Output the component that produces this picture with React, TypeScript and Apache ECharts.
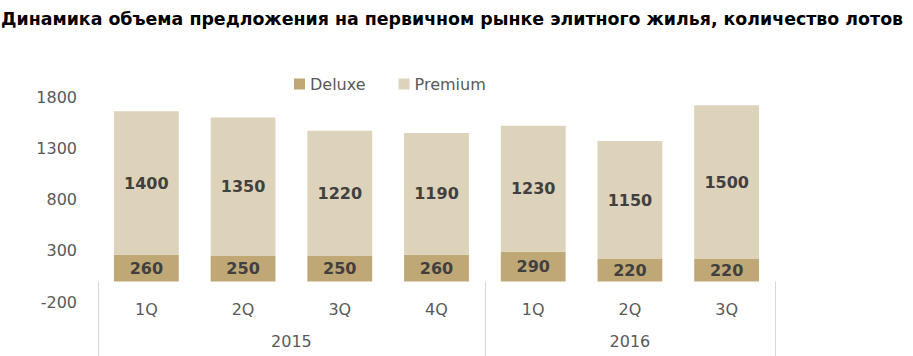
import React, { useEffect, useRef } from "react";
import * as echarts from "echarts";

const quarters = ["1Q", "2Q", "3Q", "4Q", "1Q", "2Q", "3Q"];
const years = ["2015", "2016"];
const quartersPerYear = [4, 3];
const deluxe = [260, 250, 250, 260, 290, 220, 220];
const premium = [1400, 1350, 1220, 1190, 1230, 1150, 1500];
const yTicks = [-200, 300, 800, 1300, 1800];

const FONT = "'DejaVu Sans', Verdana, sans-serif";

export default function App() {
  const ref = useRef<HTMLDivElement>(null);
  useEffect(() => {
    if (!ref.current) return;
    const chart = echarts.init(ref.current, undefined, { renderer: "svg" });
    const bounds: number[] = [0];
    quartersPerYear.forEach((n) => bounds.push(bounds[bounds.length - 1] + n));
    const mids = years.map((_, i) => (bounds[i] + bounds[i + 1]) / 2);
    chart.setOption({
      animation: false,
      title: {
        text: "Динамика объема предложения на первичном рынке элитного жилья, количество лотов",
        left: 1,
        top: 10,
        padding: 0,
        textStyle: { fontFamily: FONT, fontWeight: "bold", fontSize: 17.4, color: "#000" },
      },
      legend: {
        top: 76,
        left: 294,
        padding: 0,
        itemWidth: 11,
        itemHeight: 11,
        itemGap: 33,
        icon: "rect",
        textStyle: { fontFamily: FONT, fontSize: 16, color: "#595959" },
        data: ["Deluxe", "Premium"],
      },
      grid: { left: 98, right: 138, top: 97, bottom: 54, containLabel: false },
      yAxis: {
        type: "value",
        min: yTicks[0],
        max: yTicks[yTicks.length - 1],
        interval: yTicks[1] - yTicks[0],
        axisLine: { show: false },
        axisTick: { show: false },
        splitLine: { show: false },
        axisLabel: {
          fontFamily: FONT,
          fontSize: 16,
          color: "#595959",
          margin: 21,
          formatter: (v: number) => String(v),
        },
      },
      xAxis: [
        {
          type: "category",
          data: quarters,
          position: "bottom",
          offset: -20.5,
          axisLine: { show: false, onZero: false },
          axisTick: { show: false },
          axisLabel: { fontFamily: FONT, fontSize: 16, color: "#595959", margin: 20 },
        },
        {
          type: "value",
          min: 0,
          max: bounds[bounds.length - 1],
          position: "bottom",
          offset: -20.5,
          axisLine: { show: false, onZero: false },
          splitLine: { show: false },
          axisTick: {
            show: true,
            length: 75,
            customValues: bounds,
            lineStyle: { color: "#d9d9d9", width: 1 },
          },
          axisLabel: {
            customValues: mids,
            formatter: (v: number) => {
              const i = mids.findIndex((m) => Math.abs(m - v) < 1e-6);
              return i >= 0 ? years[i] : "";
            },
            fontFamily: FONT,
            fontSize: 16,
            color: "#595959",
            margin: 52,
          },
        },
      ],
      series: [
        {
          name: "Deluxe",
          type: "bar",
          stack: "total",
          data: deluxe,
          barCategoryGap: "33%",
          itemStyle: { color: "#BFA876" },
          label: {
            show: true,
            position: "inside",
            fontFamily: FONT,
            fontWeight: "bold",
            fontSize: 16,
            color: "#404040",
          },
        },
        {
          name: "Premium",
          type: "bar",
          stack: "total",
          data: premium,
          barCategoryGap: "33%",
          itemStyle: { color: "#DDD2BA" },
          label: {
            show: true,
            position: "inside",
            fontFamily: FONT,
            fontWeight: "bold",
            fontSize: 16,
            color: "#404040",
          },
        },
      ],
    });
    return () => chart.dispose();
  }, []);
  return (
    <div
      ref={ref}
      style={{ position: "fixed", left: 0, top: 0, width: 913, height: 356, background: "#fff" }}
    />
  );
}
